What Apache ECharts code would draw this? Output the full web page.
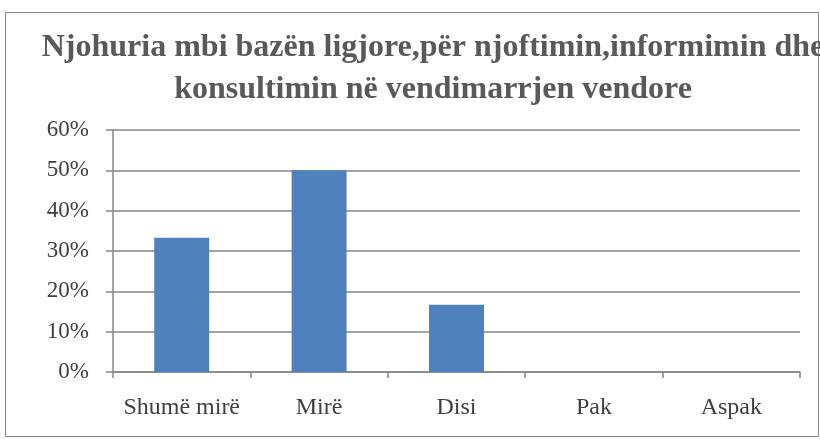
<!DOCTYPE html>
<html>
<head>
<meta charset="utf-8">
<script src="https://cdn.jsdelivr.net/npm/echarts@6/dist/echarts.min.js"></script>
<style>
  html, body { margin: 0; padding: 0; background: #fff; }
  #chart { width: 820px; height: 439px; }
</style>
</head>
<body>
<div id="chart"></div>
<script>
// te dhenat
const categories = ["Shumë mirë", "Mirë", "Disi", "Pak", "Aspak"];
const values = [33.3, 50, 16.7, 0, 0];
const titleText = "Njohuria mbi bazën ligjore,për njoftimin,informimin dhe\nkonsultimin në vendimarrjen vendore";

var myChart = echarts.init(document.getElementById("chart"));
var option = {
  animation: false,
  backgroundColor: "#fff",
  title: {
    text: titleText,
    left: 428,
    top: 22,
    textAlign: "center",
    textStyle: {
      fontFamily: "Liberation Serif",
      fontWeight: "bold",
      fontSize: 32,
      lineHeight: 42,
      color: "#595959",
    },
  },
  graphic: [
    {
      type: "rect",
      shape: { x: 5.5, y: 12.5, width: 813, height: 424 },
      style: { fill: "none", stroke: "#868686", lineWidth: 1 },
      silent: true,
    },
  ],
  grid: {
    left: 113,
    right: 20,
    top: 130,
    bottom: 67,
  },
  xAxis: {
    type: "category",
    data: categories,
    axisLine: { lineStyle: { color: "#868686", width: 1.5 } },
    axisTick: { show: true, length: 6, lineStyle: { color: "#868686", width: 1.5 } },
    axisLabel: {
      interval: 0,
      fontFamily: "Liberation Serif",
      fontSize: 24,
      color: "#404040",
      margin: 24,
    },
  },
  yAxis: {
    type: "value",
    min: 0,
    max: 60,
    interval: 10,
    axisLine: { show: true, lineStyle: { color: "#868686", width: 1.5 } },
    axisTick: { show: true, length: 7, lineStyle: { color: "#868686", width: 1.5 } },
    splitLine: { show: true, lineStyle: { color: "#868686", width: 1.5 } },
    axisLabel: {
      formatter: "{value}%",
      fontFamily: "Liberation Serif",
      fontSize: 23,
      color: "#404040",
      margin: 24,
    },
  },
  series: [
    {
      type: "bar",
      data: values,
      barWidth: "40%",
      itemStyle: { color: "#4F81BD" },
    },
  ],
};
myChart.setOption(option);
</script>
</body>
</html>
